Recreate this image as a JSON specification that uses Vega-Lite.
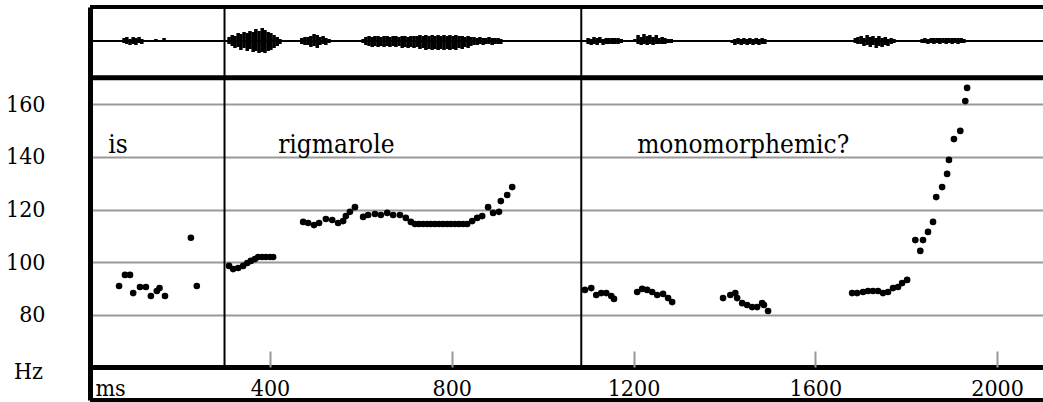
{
  "$schema": "https://vega.github.io/schema/vega-lite/v6.json",
  "width": 953,
  "height": 393,
  "autosize": {"type": "none"},
  "padding": {"left": 90, "top": 7, "right": 0, "bottom": 2},
  "background": "white",
  "config": {"view": {"stroke": null}},
  "datasets": {
    "pitch": [
      {"ms": 68, "hz": 91.0}, {"ms": 81, "hz": 95.2}, {"ms": 92, "hz": 95.2}, {"ms": 99, "hz": 88.3}, {"ms": 114, "hz": 90.6}, {"ms": 127, "hz": 90.6}, {"ms": 138, "hz": 87.2}, {"ms": 151, "hz": 89.1}, {"ms": 157, "hz": 90.2}, {"ms": 169, "hz": 87.2}, {"ms": 226, "hz": 109.3}, {"ms": 239, "hz": 91.0},
      {"ms": 310, "hz": 98.6}, {"ms": 319, "hz": 97.4}, {"ms": 330, "hz": 97.8}, {"ms": 341, "hz": 98.6}, {"ms": 350, "hz": 99.7}, {"ms": 358, "hz": 100.5}, {"ms": 367, "hz": 101.2}, {"ms": 374, "hz": 102.0}, {"ms": 383, "hz": 102.0}, {"ms": 391, "hz": 102.0}, {"ms": 400, "hz": 102.0}, {"ms": 407, "hz": 102.0},
      {"ms": 473, "hz": 115.3}, {"ms": 484, "hz": 114.9}, {"ms": 497, "hz": 114.1}, {"ms": 508, "hz": 114.9}, {"ms": 523, "hz": 116.4}, {"ms": 537, "hz": 116.0}, {"ms": 550, "hz": 114.9}, {"ms": 561, "hz": 115.6}, {"ms": 567, "hz": 117.5}, {"ms": 576, "hz": 119.1}, {"ms": 587, "hz": 120.9}, {"ms": 605, "hz": 117.2}, {"ms": 616, "hz": 117.9}, {"ms": 631, "hz": 118.3}, {"ms": 644, "hz": 117.9}, {"ms": 658, "hz": 118.7}, {"ms": 671, "hz": 117.9}, {"ms": 686, "hz": 117.9}, {"ms": 699, "hz": 116.8}, {"ms": 710, "hz": 115.3},
      {"ms": 719, "hz": 114.5}, {"ms": 728, "hz": 114.5}, {"ms": 737, "hz": 114.5}, {"ms": 746, "hz": 114.5}, {"ms": 754, "hz": 114.5}, {"ms": 763, "hz": 114.5}, {"ms": 772, "hz": 114.5}, {"ms": 781, "hz": 114.5}, {"ms": 790, "hz": 114.5}, {"ms": 798, "hz": 114.5}, {"ms": 807, "hz": 114.5}, {"ms": 816, "hz": 114.5}, {"ms": 825, "hz": 114.5}, {"ms": 834, "hz": 114.5},
      {"ms": 845, "hz": 115.6}, {"ms": 856, "hz": 116.8}, {"ms": 867, "hz": 117.5}, {"ms": 880, "hz": 120.9}, {"ms": 891, "hz": 118.7}, {"ms": 904, "hz": 119.1}, {"ms": 908, "hz": 123.2}, {"ms": 922, "hz": 125.5}, {"ms": 933, "hz": 128.5},
      {"ms": 1093, "hz": 89.5}, {"ms": 1107, "hz": 90.2}, {"ms": 1118, "hz": 87.6}, {"ms": 1129, "hz": 88.3}, {"ms": 1140, "hz": 88.3}, {"ms": 1151, "hz": 87.2}, {"ms": 1157, "hz": 86.1},
      {"ms": 1208, "hz": 88.7}, {"ms": 1219, "hz": 89.9}, {"ms": 1230, "hz": 89.5}, {"ms": 1241, "hz": 88.7}, {"ms": 1252, "hz": 87.6}, {"ms": 1265, "hz": 88.0}, {"ms": 1276, "hz": 86.4}, {"ms": 1285, "hz": 84.9},
      {"ms": 1397, "hz": 86.4}, {"ms": 1413, "hz": 87.6}, {"ms": 1424, "hz": 88.3}, {"ms": 1428, "hz": 86.4}, {"ms": 1439, "hz": 84.5}, {"ms": 1450, "hz": 83.8}, {"ms": 1461, "hz": 83.0}, {"ms": 1472, "hz": 83.0}, {"ms": 1483, "hz": 84.5}, {"ms": 1487, "hz": 83.8}, {"ms": 1496, "hz": 81.5},
      {"ms": 1681, "hz": 88.3}, {"ms": 1692, "hz": 88.3}, {"ms": 1705, "hz": 88.7}, {"ms": 1716, "hz": 89.1}, {"ms": 1727, "hz": 89.1}, {"ms": 1738, "hz": 89.1}, {"ms": 1749, "hz": 88.3}, {"ms": 1760, "hz": 88.7}, {"ms": 1771, "hz": 90.2}, {"ms": 1782, "hz": 90.6}, {"ms": 1791, "hz": 92.1}, {"ms": 1802, "hz": 93.3},
      {"ms": 1820, "hz": 108.4}, {"ms": 1831, "hz": 104.3}, {"ms": 1837, "hz": 108.4}, {"ms": 1848, "hz": 111.5}, {"ms": 1859, "hz": 115.3}, {"ms": 1866, "hz": 124.7}, {"ms": 1879, "hz": 128.5}, {"ms": 1890, "hz": 133.5}, {"ms": 1894, "hz": 138.8}, {"ms": 1905, "hz": 146.7}, {"ms": 1919, "hz": 149.8}, {"ms": 1930, "hz": 161.1}, {"ms": 1934, "hz": 166.1}
    ],
    "wave": [
      {"ms": 72, "lo": -1, "hi": 1}, {"ms": 79, "lo": -2, "hi": 3}, {"ms": 85, "lo": -3, "hi": 4}, {"ms": 92, "lo": -4, "hi": 2}, {"ms": 99, "lo": -3, "hi": 4}, {"ms": 105, "lo": -4, "hi": 3}, {"ms": 112, "lo": -2, "hi": 4}, {"ms": 118, "lo": -3, "hi": 2}, {"ms": 125, "lo": -1, "hi": 1}, {"ms": 149, "lo": -1, "hi": 2}, {"ms": 167, "lo": -1, "hi": 3},
      {"ms": 310, "lo": -3, "hi": 4}, {"ms": 317, "lo": -5, "hi": 6}, {"ms": 323, "lo": -7, "hi": 5}, {"ms": 330, "lo": -6, "hi": 8}, {"ms": 336, "lo": -9, "hi": 7}, {"ms": 343, "lo": -7, "hi": 9}, {"ms": 350, "lo": -10, "hi": 8}, {"ms": 356, "lo": -8, "hi": 10}, {"ms": 363, "lo": -11, "hi": 9}, {"ms": 369, "lo": -10, "hi": 12}, {"ms": 376, "lo": -12, "hi": 10}, {"ms": 383, "lo": -11, "hi": 13}, {"ms": 389, "lo": -12, "hi": 11}, {"ms": 396, "lo": -10, "hi": 9}, {"ms": 402, "lo": -9, "hi": 8}, {"ms": 409, "lo": -7, "hi": 6}, {"ms": 416, "lo": -5, "hi": 4}, {"ms": 422, "lo": -3, "hi": 2}, {"ms": 429, "lo": -1, "hi": 1},
      {"ms": 470, "lo": -3, "hi": 3}, {"ms": 477, "lo": -4, "hi": 4}, {"ms": 484, "lo": -4, "hi": 4}, {"ms": 490, "lo": -6, "hi": 5}, {"ms": 497, "lo": -5, "hi": 7}, {"ms": 504, "lo": -7, "hi": 6}, {"ms": 510, "lo": -4, "hi": 4}, {"ms": 517, "lo": -3, "hi": 5}, {"ms": 523, "lo": -4, "hi": 3}, {"ms": 530, "lo": -2, "hi": 2}, {"ms": 537, "lo": -1, "hi": 1},
      {"ms": 605, "lo": -2, "hi": 2}, {"ms": 611, "lo": -4, "hi": 4}, {"ms": 618, "lo": -5, "hi": 5}, {"ms": 625, "lo": -6, "hi": 4}, {"ms": 631, "lo": -5, "hi": 5}, {"ms": 638, "lo": -6, "hi": 5}, {"ms": 644, "lo": -5, "hi": 4}, {"ms": 651, "lo": -6, "hi": 5}, {"ms": 658, "lo": -5, "hi": 5}, {"ms": 664, "lo": -6, "hi": 4}, {"ms": 671, "lo": -5, "hi": 5}, {"ms": 677, "lo": -6, "hi": 5}, {"ms": 684, "lo": -5, "hi": 4}, {"ms": 691, "lo": -7, "hi": 5}, {"ms": 697, "lo": -6, "hi": 5}, {"ms": 704, "lo": -7, "hi": 4}, {"ms": 710, "lo": -6, "hi": 5}, {"ms": 717, "lo": -7, "hi": 5}, {"ms": 724, "lo": -6, "hi": 5}, {"ms": 730, "lo": -8, "hi": 6}, {"ms": 737, "lo": -7, "hi": 5}, {"ms": 743, "lo": -9, "hi": 6}, {"ms": 750, "lo": -8, "hi": 5}, {"ms": 757, "lo": -9, "hi": 6}, {"ms": 763, "lo": -8, "hi": 5}, {"ms": 770, "lo": -9, "hi": 6}, {"ms": 776, "lo": -8, "hi": 5}, {"ms": 783, "lo": -9, "hi": 6}, {"ms": 790, "lo": -8, "hi": 5}, {"ms": 796, "lo": -9, "hi": 6}, {"ms": 803, "lo": -8, "hi": 5}, {"ms": 809, "lo": -9, "hi": 6}, {"ms": 816, "lo": -7, "hi": 5}, {"ms": 823, "lo": -8, "hi": 5}, {"ms": 829, "lo": -6, "hi": 4}, {"ms": 836, "lo": -7, "hi": 5}, {"ms": 842, "lo": -5, "hi": 4}, {"ms": 849, "lo": -4, "hi": 4}, {"ms": 856, "lo": -4, "hi": 3}, {"ms": 862, "lo": -3, "hi": 4}, {"ms": 869, "lo": -4, "hi": 3}, {"ms": 875, "lo": -3, "hi": 3}, {"ms": 882, "lo": -3, "hi": 4}, {"ms": 889, "lo": -4, "hi": 3}, {"ms": 895, "lo": -3, "hi": 3}, {"ms": 902, "lo": -3, "hi": 3}, {"ms": 908, "lo": -3, "hi": 2}, {"ms": 915, "lo": -1, "hi": 1},
      {"ms": 1093, "lo": -1, "hi": 1}, {"ms": 1100, "lo": -3, "hi": 3}, {"ms": 1107, "lo": -4, "hi": 2}, {"ms": 1113, "lo": -3, "hi": 4}, {"ms": 1120, "lo": -4, "hi": 3}, {"ms": 1126, "lo": -2, "hi": 4}, {"ms": 1133, "lo": -4, "hi": 2}, {"ms": 1140, "lo": -3, "hi": 3}, {"ms": 1146, "lo": -3, "hi": 3}, {"ms": 1153, "lo": -3, "hi": 3}, {"ms": 1159, "lo": -3, "hi": 3}, {"ms": 1166, "lo": -3, "hi": 3}, {"ms": 1173, "lo": -2, "hi": 2}, {"ms": 1179, "lo": -1, "hi": 1},
      {"ms": 1203, "lo": -1, "hi": 2}, {"ms": 1210, "lo": -3, "hi": 6}, {"ms": 1217, "lo": -4, "hi": 4}, {"ms": 1223, "lo": -3, "hi": 7}, {"ms": 1230, "lo": -4, "hi": 5}, {"ms": 1236, "lo": -3, "hi": 6}, {"ms": 1243, "lo": -4, "hi": 4}, {"ms": 1250, "lo": -3, "hi": 6}, {"ms": 1256, "lo": -3, "hi": 3}, {"ms": 1263, "lo": -3, "hi": 4}, {"ms": 1269, "lo": -3, "hi": 3}, {"ms": 1276, "lo": -2, "hi": 2}, {"ms": 1283, "lo": -2, "hi": 2}, {"ms": 1289, "lo": -1, "hi": 1},
      {"ms": 1417, "lo": -2, "hi": 1}, {"ms": 1423, "lo": -4, "hi": 2}, {"ms": 1430, "lo": -3, "hi": 3}, {"ms": 1437, "lo": -4, "hi": 2}, {"ms": 1443, "lo": -3, "hi": 3}, {"ms": 1450, "lo": -4, "hi": 2}, {"ms": 1456, "lo": -3, "hi": 3}, {"ms": 1463, "lo": -4, "hi": 2}, {"ms": 1470, "lo": -3, "hi": 3}, {"ms": 1476, "lo": -4, "hi": 2}, {"ms": 1483, "lo": -3, "hi": 3}, {"ms": 1489, "lo": -3, "hi": 2}, {"ms": 1496, "lo": -1, "hi": 1},
      {"ms": 1688, "lo": -2, "hi": 3}, {"ms": 1694, "lo": -3, "hi": 4}, {"ms": 1701, "lo": -3, "hi": 5}, {"ms": 1707, "lo": -5, "hi": 3}, {"ms": 1714, "lo": -4, "hi": 6}, {"ms": 1721, "lo": -6, "hi": 4}, {"ms": 1727, "lo": -4, "hi": 5}, {"ms": 1734, "lo": -7, "hi": 3}, {"ms": 1740, "lo": -5, "hi": 5}, {"ms": 1747, "lo": -6, "hi": 3}, {"ms": 1754, "lo": -4, "hi": 4}, {"ms": 1760, "lo": -5, "hi": 2}, {"ms": 1767, "lo": -3, "hi": 3}, {"ms": 1773, "lo": -2, "hi": 2}, {"ms": 1780, "lo": -1, "hi": 1},
      {"ms": 1835, "lo": -2, "hi": 2}, {"ms": 1841, "lo": -2, "hi": 3}, {"ms": 1848, "lo": -3, "hi": 2}, {"ms": 1855, "lo": -2, "hi": 3}, {"ms": 1861, "lo": -3, "hi": 3}, {"ms": 1868, "lo": -2, "hi": 3}, {"ms": 1874, "lo": -3, "hi": 3}, {"ms": 1881, "lo": -2, "hi": 3}, {"ms": 1888, "lo": -3, "hi": 3}, {"ms": 1894, "lo": -2, "hi": 3}, {"ms": 1901, "lo": -3, "hi": 3}, {"ms": 1907, "lo": -2, "hi": 3}, {"ms": 1914, "lo": -3, "hi": 3}, {"ms": 1921, "lo": -2, "hi": 3}, {"ms": 1927, "lo": -2, "hi": 2}, {"ms": 1934, "lo": -1, "hi": 1}
    ],
    "bounds": [{"ms": 300}, {"ms": 1085}],
    "words": [
      {"ms": 44, "hz": 144.5, "word": "is"},
      {"ms": 418, "hz": 144.5, "word": "rigmarole"},
      {"ms": 1208, "hz": 144.5, "word": "monomorphemic?"}
    ],
    "one": [{}]
  },
  "layer": [
    {
      "layer": [
        {
          "data": {"name": "pitch"},
          "mark": {"type": "circle", "size": 44, "color": "black", "opacity": 1},
          "encoding": {
            "x": {
              "field": "ms", "type": "quantitative",
              "scale": {"domain": [4, 2101], "nice": false, "zero": false},
              "axis": {
                "orient": "bottom", "offset": -33,
                "values": [400, 800, 1200, 1600, 2000], "format": "d",
                "domain": true, "domainColor": "black", "domainWidth": 5,
                "ticks": false,
                "labelPadding": 28, "labelBaseline": "alphabetic",
                "labelFont": "DejaVu Serif Condensed", "labelFontSize": 23, "labelColor": "black",
                "grid": false,
                "title": "ms", "titleFont": "DejaVu Serif Condensed", "titleFontSize": 23, "titleFontWeight": "normal", "titleColor": "black",
                "titleAnchor": "start", "titleAlign": "left", "titleBaseline": "alphabetic", "titleX": 5, "titleY": 28
              }
            },
            "y": {
              "field": "hz", "type": "quantitative",
              "scale": {"domain": [47.77, 196.78], "nice": false, "zero": false},
              "axis": {
                "orient": "left",
                "values": [80, 100, 120, 140, 160],
                "domain": true, "domainColor": "black", "domainWidth": 5,
                "ticks": false, "labelPadding": 45,
                "labelFont": "DejaVu Serif Condensed", "labelFontSize": 23, "labelColor": "black",
                "grid": true, "gridColor": "#999999", "gridWidth": 2,
                "title": "Hz", "titleFont": "DejaVu Serif Condensed", "titleFontSize": 23, "titleFontWeight": "normal", "titleColor": "black",
                "titleAngle": 0, "titleAlign": "center", "titleBaseline": "middle", "titleX": -62, "titleY": 364
              }
            }
          }
        },
        {
          "data": {"name": "bounds"},
          "mark": {"type": "rule", "color": "black", "strokeWidth": 2},
          "encoding": {
            "x": {"field": "ms", "type": "quantitative", "scale": {"domain": [4, 2101], "nice": false, "zero": false}},
            "y": {"datum": 60},
            "y2": {"datum": 196.78}
          }
        },
        {
          "data": {"name": "one"},
          "mark": {"type": "rule", "color": "black", "strokeWidth": 5},
          "encoding": {"y": {"datum": 170}}
        },
        {
          "data": {"name": "one"},
          "mark": {"type": "rule", "color": "black", "strokeWidth": 4},
          "encoding": {"y": {"datum": 196.78}}
        },
        {
          "data": {"name": "one"},
          "mark": {"type": "rule", "color": "black", "strokeWidth": 4},
          "encoding": {"y": {"datum": 47.77}}
        },
        {
          "data": {"name": "words"},
          "mark": {"type": "text", "align": "left", "baseline": "middle", "font": "DejaVu Serif Condensed", "fontSize": 26, "color": "black"},
          "encoding": {
            "x": {"field": "ms", "type": "quantitative", "scale": {"domain": [4, 2101], "nice": false, "zero": false}},
            "y": {"field": "hz", "type": "quantitative"},
            "text": {"field": "word"}
          }
        }
      ]
    },
    {
      "layer": [
        {
          "data": {"name": "one"},
          "mark": {"type": "rule", "color": "black", "strokeWidth": 2},
          "encoding": {"y": {"datum": 0, "scale": {"domain": [-12, 12], "range": [46, 22]}, "axis": null}}
        },
        {
          "data": {"name": "wave"},
          "mark": {"type": "rule", "color": "black", "strokeWidth": 3.5},
          "encoding": {
            "x": {
              "field": "ms", "type": "quantitative",
              "scale": {"domain": [4, 2101], "nice": false, "zero": false},
              "axis": {
                "orient": "top", "offset": -360,
                "values": [400, 800, 1200, 1600, 2000],
                "domain": false, "labels": false, "grid": false, "title": null,
                "ticks": true, "tickColor": "#999999", "tickWidth": 2, "tickSize": 16
              }
            },
            "y": {"field": "lo", "type": "quantitative", "scale": {"domain": [-12, 12], "range": [46, 22]}, "axis": null},
            "y2": {"field": "hi"}
          }
        }
      ]
    }
  ],
  "resolve": {"scale": {"y": "independent"}, "axis": {"y": "independent", "x": "independent"}}
}
